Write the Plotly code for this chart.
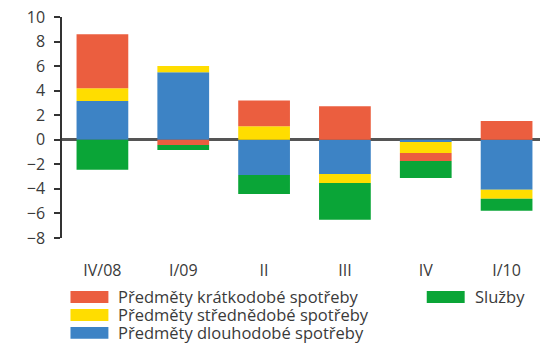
import plotly.graph_objects as go

categories = ["IV/08", "I/09", "II", "III", "IV", "I/10"]
series_names = ["Předměty dlouhodobé spotřeby", "Předměty střednědobé spotřeby",
                "Předměty krátkodobé spotřeby", "Služby"]
dlouhodobe = [3.15, 5.5, -2.87, -2.79, -0.19, -4.08]
strednedobe = [1.05, 0.5, 1.1, -0.73, -0.89, -0.73]
kratkodobe = [4.4, -0.43, 2.1, 2.73, -0.65, 1.52]
sluzby = [-2.45, -0.41, -1.55, -3.0, -1.38, -0.97]
colors = ["#3D83C5", "#FFDD00", "#EB5E3F", "#0AA537"]
y_ticks = [-8, -6, -4, -2, 0, 2, 4, 6, 8, 10]

# page body has an 8px margin: build the figure 8px smaller and shift layout accordingly
OFF = 8
W, H = 548 - OFF, 344 - OFF
L, R, T, B = 61.5 - OFF, 0.5, 16.7 - OFF, 106
FONT = "Open Sans"
TXT = "#3a3a3a"

fig = go.Figure()
for name, vals, col in zip(series_names, [dlouhodobe, strednedobe, kratkodobe, sluzby], colors):
    fig.add_trace(go.Bar(x=categories, y=vals, name=name, marker=dict(color=col, line=dict(width=0)),
                         width=0.64, showlegend=False))

fig.update_layout(
    width=W, height=H, barmode="relative",
    margin=dict(l=L, r=R, t=T, b=B, pad=0, autoexpand=False),
    paper_bgcolor="white", plot_bgcolor="white",
    font=dict(family=FONT, size=16, color=TXT),
    xaxis=dict(showgrid=False, showline=False, zeroline=False, ticks="outside", ticklen=0,
               tickcolor="rgba(0,0,0,0)", ticklabelstandoff=18, automargin=False,
               tickfont=dict(size=16, color=TXT)),
    yaxis=dict(range=[-8, 10], tickvals=y_ticks, showgrid=False, showline=True, linecolor="#333333",
               linewidth=1.5, ticks="outside", ticklen=6, tickwidth=1.5, tickcolor="#333333",
               zeroline=True, zerolinecolor="#555555", zerolinewidth=2.5, automargin=False,
               ticklabeloverflow="allow", ticklabelstandoff=6, tickfont=dict(size=16, color=TXT)),
)

# manual legend (reference pixel positions converted to paper coords)
def px2paper(x, y):
    x -= OFF
    y -= OFF
    return (x - L) / (W - L - R), (H - B - y) / (H - T - B)

legend_items = [(series_names[2], colors[2], 70, 297), (series_names[1], colors[1], 70, 315),
                (series_names[0], colors[0], 70, 333), (series_names[3], colors[3], 427, 297)]
for name, col, x0, yc in legend_items:
    xa, ya = px2paper(x0, yc - 6)
    xb, yb = px2paper(x0 + 38, yc + 6)
    fig.add_shape(type="rect", xref="paper", yref="paper", x0=xa, x1=xb, y0=yb, y1=ya,
                  fillcolor=col, line=dict(width=0))
    xt, yt = px2paper(x0 + 46, yc)
    fig.add_annotation(xref="paper", yref="paper", x=xt, y=yt, text=name, showarrow=False,
                       xanchor="left", yanchor="middle", font=dict(size=16.5, color=TXT, family=FONT))

fig.write_html("out.html")
